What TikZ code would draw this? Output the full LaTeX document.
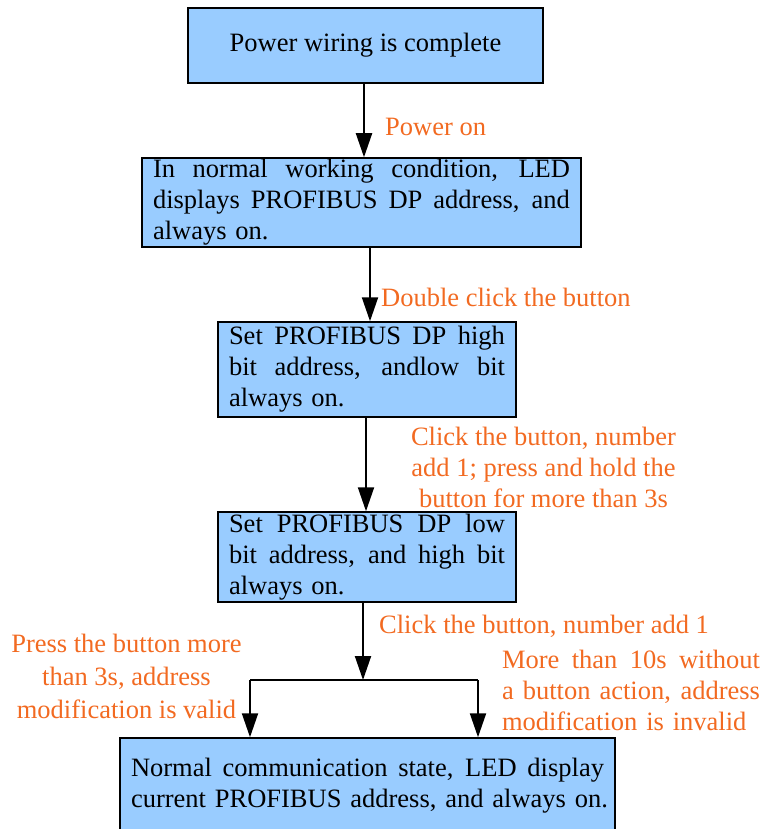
\documentclass[tikz,border=0pt]{standalone}
\usepackage{fontspec}
\setmainfont{Liberation Serif}
\usetikzlibrary{arrows.meta}
\definecolor{boxblue}{HTML}{99CCFF}
\definecolor{lblorange}{HTML}{F26A21}
\newcommand{\sline}[2]{\makebox[#1][s]{\spaceskip=0.25em plus 1fil\relax #2}}
\begin{document}
\begin{tikzpicture}[x=1pt,y=-1pt,
  stepbox/.style={draw=black,line width=1.5pt,fill=boxblue,rectangle,inner xsep=11pt,inner ysep=0pt,
    font=\fontsize{26.5}{31}\selectfont,align=left},
  lbl/.style={text=lblorange,inner sep=0pt,font=\fontsize{26.5}{31}\selectfont},
  flow/.style={line width=2pt,-{Triangle[width=16pt,length=24pt]}}]
\useasboundingbox (0,0) rectangle (764,829);
% boxes
\node[stepbox,minimum width=355pt,minimum height=75pt,align=center] (b1) at (365.5,45.5) {Power wiring is complete};
\node[stepbox,text width=417pt,minimum height=89pt] (b2) at (361.5,202.5)
  {\sline{417pt}{In normal working condition, LED}\\
   \sline{417pt}{displays PROFIBUS DP address, and}\\
   always on.};
\node[stepbox,text width=276pt,minimum height=95pt] (b3) at (367,369.5)
  {\sline{276pt}{Set PROFIBUS DP high}\\
   \sline{276pt}{bit address, andlow bit}\\
   always on.};
\node[stepbox,text width=276pt,minimum height=90pt] (b4) at (367,557)
  {\sline{276pt}{Set PROFIBUS DP low}\\
   \sline{276pt}{bit address, and high bit}\\
   always on.};
\node[stepbox,text width=473pt,minimum height=96pt] (b5) at (367.5,786)
  {\sline{473pt}{Normal communication state, LED display}\\
   \mbox{current PROFIBUS address, and always on.}};
% junction
\coordinate (jc) at (363,680);
\coordinate (jl) at (250,680);
\coordinate (jr) at (478,680);
% connectors
\draw[flow] (b1.south -| 364,0) -- (b2.north -| 364,0);
\draw[flow] (b2.south -| 370,0) -- (b3.north -| 370,0);
\draw[flow] (b3.south -| 366,0) -- (b4.north -| 366,0);
\draw[flow] (b4.south -| jc) -- (jc);
\draw[line width=2pt] (jl) -- (jr);
\draw[flow] (jl) -- (b5.north -| jl);
\draw[flow] (jr) -- (b5.north -| jr);
% labels
\node[lbl,anchor=west] (l1) at (385,127) {Power on};
\node[lbl,anchor=west] (l2) at (381,297) {Double click the button};
\node[lbl,align=center] (l3) at (543.5,467) {Click the button, number\\add 1; press and hold the\\button for more than 3s};
\node[lbl,anchor=west] (l4) at (379,626) {Click the button, number add 1};
\node[lbl,align=center,font=\fontsize{26.5}{33}\selectfont] (l5) at (126.5,676) {Press the button more\\than 3s, address\\modification is valid};
\node[lbl,align=left,text width=258pt] (l6) at (631,690)
  {\sline{258pt}{More than 10s without}\\
   \sline{258pt}{a button action, address}\\
   modification is invalid};
\end{tikzpicture}
\end{document}
